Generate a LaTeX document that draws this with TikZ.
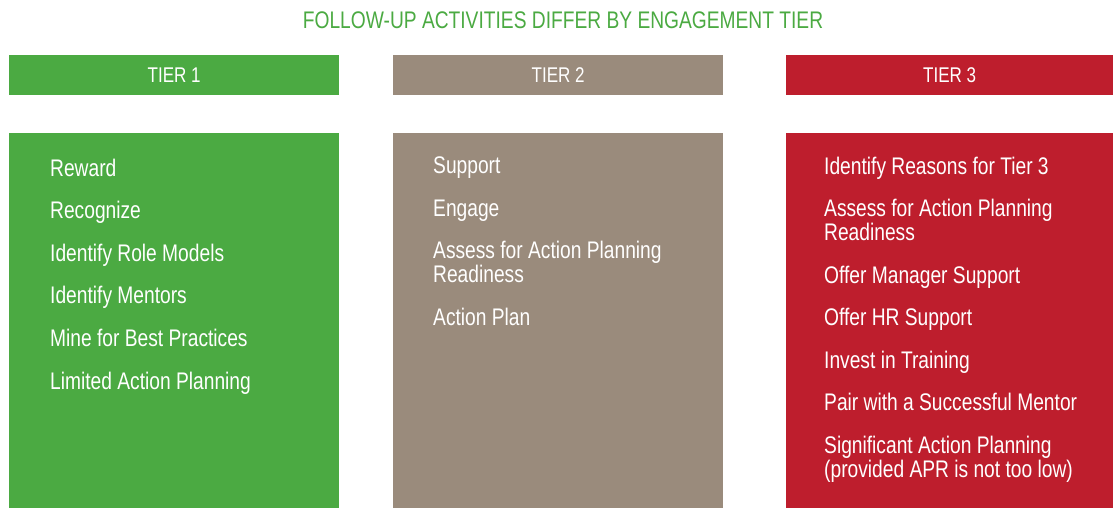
\documentclass[tikz,border=0pt]{standalone}
\usepackage{fontspec}
\setmainfont{Liberation Sans}[FakeStretch=0.8]
\usepackage{tikz}
\usetikzlibrary{positioning}

\definecolor{tiergreen}{RGB}{75,170,66}
\definecolor{tiertaupe}{RGB}{154,139,124}
\definecolor{tierred}{RGB}{190,30,45}

\newcommand{\listfont}{\fontsize{24}{24}\selectfont\lineskiplimit=-20pt\relax}

\tikzstyle{head} = [rectangle, inner sep=0, minimum width=330pt, minimum height=40pt, anchor=north west, text=white, font=\fontsize{21.3}{24}\selectfont]
\tikzstyle{body} = [rectangle, inner sep=0, minimum width=330pt, minimum height=375pt, anchor=north west]
\tikzstyle{list} = [inner sep=0, anchor=north west, align=left, text=white, font=\listfont]

\begin{document}
\begin{tikzpicture}[x=1pt, y=-1pt]
	\useasboundingbox (0,0) rectangle (1113,508);

	\node (TITLE) at (563,20) [text=tiergreen, font=\fontsize{24}{26}\selectfont] {FOLLOW-UP ACTIVITIES DIFFER BY ENGAGEMENT TIER};

	\node (T1_HEAD) at (9,55) [head, fill=tiergreen] {TIER 1};
	\node (T2_HEAD) at (393,55) [head, fill=tiertaupe] {TIER 2};
	\node (T3_HEAD) at (786,55) [head, fill=tierred, minimum width=327pt] {TIER 3};

	\node (T1_BODY) at (9,133) [body, fill=tiergreen] {};
	\node (T2_BODY) at (393,133) [body, fill=tiertaupe] {};
	\node (T3_BODY) at (786,133) [body, fill=tierred, minimum width=327pt] {};

	\node (T1_LIST) at (50,158.5) [list] {\strut Reward\\[18.6pt]
		Recognize\\[18.6pt]
		Identify Role Models\\[18.6pt]
		Identify Mentors\\[18.6pt]
		Mine for Best Practices\\[18.6pt]
		Limited Action Planning};
	\node (T2_LIST) at (433,156.5) [list] {\strut Support\\[18.5pt]
		Engage\\[18.5pt]
		Assess for Action Planning\\Readiness\\[18.5pt]
		Action Plan};
	\node (T3_LIST) at (824,156.5) [list] {\strut Identify Reasons for Tier 3\\[18.5pt]
		Assess for Action Planning\\Readiness\\[18.5pt]
		Offer Manager Support\\[18.5pt]
		Offer HR Support\\[18.5pt]
		Invest in Training\\[18.5pt]
		Pair with a Successful Mentor\\[18.5pt]
		Significant Action Planning\\(provided APR is not too low)};
\end{tikzpicture}
\end{document}
